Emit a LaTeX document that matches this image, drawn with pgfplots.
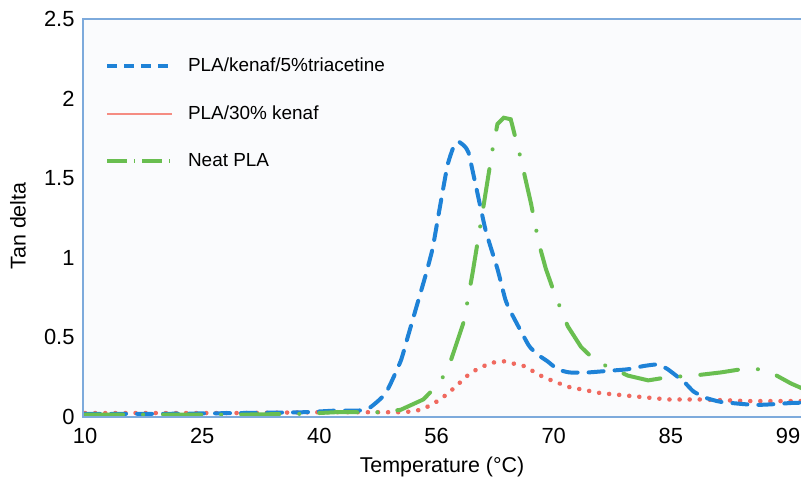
\documentclass[border=0pt]{standalone}
\usepackage{fontspec}
\setmainfont{Liberation Sans}
\usepackage{pgfplots}
\pgfplotsset{compat=1.18}
\definecolor{cblue}{RGB}{30,130,215}
\definecolor{cred}{RGB}{240,105,95}
\definecolor{clegred}{RGB}{245,140,130}
\definecolor{cgreen}{RGB}{105,190,80}
\definecolor{cframe}{RGB}{125,170,220}
\definecolor{cbg}{RGB}{250,251,253}
\begin{document}
\begin{tikzpicture}
\begin{axis}[
 scale only axis, width=718bp, height=398bp,
 xmin=9.74, xmax=101.66, ymin=0, ymax=2.5,
 xtick={10,25,40,55,70,85,100}, xticklabels={10,25,40,56,70,85,99},
 ytick={0,0.5,1,1.5,2,2.5}, yticklabels={0,0.5,1,1.5,2,2.5},
 major tick length=0pt,
 axis line style={draw=none},
 axis background/.style={fill=cbg},
 tick label style={font=\fontsize{22}{26}\selectfont},
 xticklabel style={yshift=-8bp},
 yticklabel style={xshift=-5bp},
 /pgf/number format/assume math mode=true,
 xlabel={Temperature (°C)}, ylabel={Tan delta},
 every axis x label/.style={at={([yshift=-50bp]rel axis cs:0.5,0)}, anchor=center, font=\fontsize{21.5}{25}\selectfont},
 every axis y label/.style={at={([xshift=-65bp]rel axis cs:0,0.48)}, anchor=center, rotate=90, font=\fontsize{21.5}{25}\selectfont},
 clip=true,
 legend cell align=left,
 legend style={draw=none, fill=none, at={(0.027,0.912)}, anchor=north west,
   font=\fontsize{19}{22}\selectfont, row sep=28.5bp},
 legend image code/.code={\draw[#1] (0bp,0bp) -- (65bp,0bp); \path (77bp,0bp);},
]
\addlegendimage{cblue, line width=3.5bp, dash pattern=on 10bp off 7bp}
\addlegendentry{PLA/kenaf/5\%triacetine}
\addlegendimage{draw=clegred, line width=2bp}
\addlegendentry{PLA/30\% kenaf}
\addlegendimage{cgreen, line width=3.5bp, dash pattern=on 20bp off 7bp on 1bp off 7bp}
\addlegendentry{Neat PLA}

\addplot[forget plot, cred, line width=4.5bp, line cap=round, dash pattern=on 0.1bp off 10bp] coordinates {
(10,0.025)(30,0.025)(40,0.03)(50.4,0.03)(52,0.035)(53.3,0.05)(55.5,0.11)(57.2,0.18)(59.4,0.28)(61.9,0.34)(63.6,0.35)(66.2,0.32)(68.7,0.25)(71.8,0.19)(76.0,0.15)(80.3,0.13)(84.6,0.11)(88.8,0.11)(95,0.10)(101.8,0.10)
};
\addplot[forget plot, cblue, line width=4bp, line cap=round, dash pattern=on 15bp off 11bp, smooth, tension=0.3] coordinates {
(10,0.02)(20,0.02)(30,0.025)(38,0.03)(42,0.04)(45,0.04)(46.5,0.06)(48.5,0.15)(50.4,0.35)(51.3,0.50)(52.3,0.67)(53.6,0.89)(54.5,1.06)(55.4,1.31)(56.4,1.58)(57.2,1.70)(57.8,1.73)(58.6,1.70)(59.1,1.66)(60.0,1.46)(61.3,1.17)(62.8,0.93)(63.8,0.74)(64.5,0.66)(66.8,0.45)(68.0,0.39)(69.2,0.35)(70.5,0.30)(72,0.28)(74.4,0.28)(77,0.29)(79.5,0.30)(81.5,0.32)(83.3,0.33)(84.6,0.30)(86.7,0.22)(87.9,0.16)(89.5,0.12)(91.4,0.095)(95.6,0.076)(98,0.08)(100.4,0.088)(101.8,0.09)
};
\addplot[forget plot, cgreen, line width=4bp, line cap=round, dash pattern=on 38bp off 20bp on 0.1bp off 20bp] coordinates {
(10,0.015)(30,0.015)(38,0.02)(42,0.03)(45,0.03)(48,0.03)(50.4,0.045)(53.3,0.11)(55.5,0.22)(56.8,0.35)(58.5,0.60)(59.6,0.90)(60.9,1.29)(62.2,1.69)(62.8,1.84)(63.6,1.88)(64.5,1.87)(65.8,1.62)(67.1,1.34)(68.1,1.09)(69.0,0.93)(70.0,0.79)(71.8,0.57)(73.5,0.44)(75.4,0.35)(77.7,0.30)(79.5,0.26)(82.1,0.23)(84.6,0.25)(87.9,0.26)(91.4,0.28)(94.0,0.30)(96.5,0.30)(97.8,0.28)(100.4,0.21)(101.8,0.18)
};
\coordinate (O) at (rel axis cs:0,0);
\end{axis}
\draw[cframe, line width=2bp] ([shift={(718bp,0bp)}]O) -- (O) -- ([shift={(0bp,398bp)}]O) -- ([shift={(718bp,398bp)}]O);
\pgfresetboundingbox
\path[use as bounding box] ([shift={(-83bp,-66bp)}]O) rectangle ([shift={(718bp,417bp)}]O);
\end{tikzpicture}
\end{document}
